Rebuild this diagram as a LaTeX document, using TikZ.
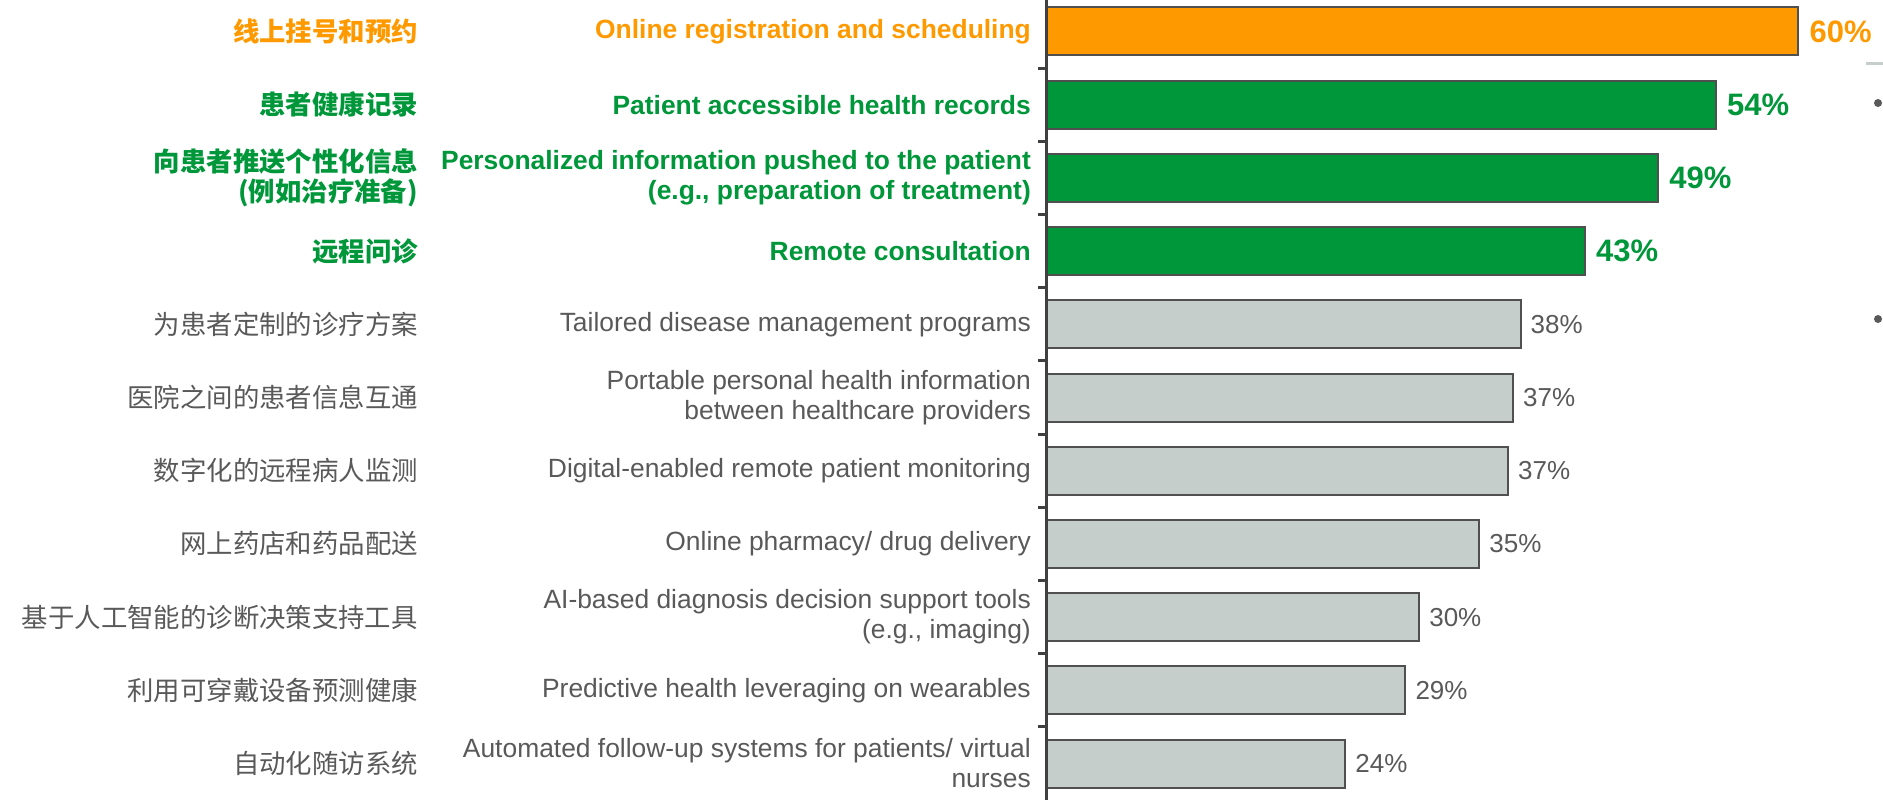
\documentclass[tikz,border=0pt]{standalone}
\usepackage{fontspec}
\setmainfont{Liberation Sans}
\newfontfamily\zhfont{Noto Sans CJK SC}
\usetikzlibrary{calc}
\definecolor{hlorange}{HTML}{FF9900}
\definecolor{hlgreen}{HTML}{00963A}
\definecolor{barfill}{HTML}{C5CECB}
\definecolor{barline}{HTML}{505050}
\definecolor{labelgray}{HTML}{595959}
\definecolor{axisgray}{HTML}{404040}

\begin{document}
\begin{tikzpicture}[x=1pt,y=-1pt]
\path [use as bounding box] (0,0) rectangle (1883,800);
\tikzstyle{bar} = [draw=barline, line width=2pt]
\tikzstyle{en} = [anchor=east, inner sep=0pt, align=right, text=labelgray, font=\fontsize{26.4}{30}\selectfont]
\tikzstyle{zh} = [anchor=east, inner sep=0pt, align=right, text=labelgray, font=\zhfont\fontsize{26.4}{30}\selectfont]
\tikzstyle{hlen} = [en, font=\bfseries\fontsize{26.4}{30}\selectfont]
\tikzstyle{hlzh} = [zh, font=\zhfont\bfseries\fontsize{26.4}{30}\selectfont]
\tikzstyle{pct} = [anchor=west, inner sep=0pt, text=labelgray, font=\fontsize{26}{30}\selectfont]
\tikzstyle{hlpct} = [pct, font=\bfseries\fontsize{31}{34}\selectfont]
\tikzstyle{bullet} = [circle, fill=labelgray, inner sep=0pt, minimum size=8pt]
\coordinate (r1) at (1046,31.5);
\coordinate (r2) at (1046,104.7);
\coordinate (r3) at (1046,177.9);
\coordinate (r4) at (1046,251.1);
\coordinate (r5) at (1046,324.3);
\coordinate (r6) at (1046,397.5);
\coordinate (r7) at (1046,470.7);
\coordinate (r8) at (1046,543.9);
\coordinate (r9) at (1046,617.1);
\coordinate (r10) at (1046,690.3);
\coordinate (r11) at (1046,763.5);
% bars
\draw[bar, fill=hlorange] ($(r1)+(0,-24)$) rectangle ($(r1)+(60.1*12.52,24)$);
\draw[bar, fill=hlgreen] ($(r2)+(0,-24)$) rectangle ($(r2)+(53.5*12.52,24)$);
\draw[bar, fill=hlgreen] ($(r3)+(0,-24)$) rectangle ($(r3)+(48.9*12.52,24)$);
\draw[bar, fill=hlgreen] ($(r4)+(0,-24)$) rectangle ($(r4)+(43.05*12.52,24)$);
\draw[bar, fill=barfill] ($(r5)+(0,-24)$) rectangle ($(r5)+(37.9*12.52,24)$);
\draw[bar, fill=barfill] ($(r6)+(0,-24)$) rectangle ($(r6)+(37.3*12.52,24)$);
\draw[bar, fill=barfill] ($(r7)+(0,-24)$) rectangle ($(r7)+(36.9*12.52,24)$);
\draw[bar, fill=barfill] ($(r8)+(0,-24)$) rectangle ($(r8)+(34.6*12.52,24)$);
\draw[bar, fill=barfill] ($(r9)+(0,-24)$) rectangle ($(r9)+(29.8*12.52,24)$);
\draw[bar, fill=barfill] ($(r10)+(0,-24)$) rectangle ($(r10)+(28.7*12.52,24)$);
\draw[bar, fill=barfill] ($(r11)+(0,-24)$) rectangle ($(r11)+(23.9*12.52,24)$);
% axis and ticks
\draw[axisgray, line width=3pt] (1046,0) -- (1046,800);
\draw[axisgray, line width=3pt] (1038,68.1) -- (1046,68.1) (1038,141.3) -- (1046,141.3)
  (1038,214.5) -- (1046,214.5) (1038,287.7) -- (1046,287.7) (1038,360.9) -- (1046,360.9)
  (1038,434.1) -- (1046,434.1) (1038,507.3) -- (1046,507.3) (1038,580.5) -- (1046,580.5)
  (1038,653.7) -- (1046,653.7) (1038,726.9) -- (1046,726.9);
% values
\node[hlpct, text=hlorange] (p1) at ($(r1)+(60.1*12.52+11,0)$) {60\%};
\node[hlpct, text=hlgreen] (p2) at ($(r2)+(53.5*12.52+11,0)$) {54\%};
\node[hlpct, text=hlgreen] (p3) at ($(r3)+(48.9*12.52+11,0)$) {49\%};
\node[hlpct, text=hlgreen] (p4) at ($(r4)+(43.05*12.52+11,0)$) {43\%};
\node[pct] (p5) at ($(r5)+(37.9*12.52+10,0)$) {38\%};
\node[pct] (p6) at ($(r6)+(37.3*12.52+10,0)$) {37\%};
\node[pct] (p7) at ($(r7)+(36.9*12.52+10,0)$) {37\%};
\node[pct] (p8) at ($(r8)+(34.6*12.52+10,0)$) {35\%};
\node[pct] (p9) at ($(r9)+(29.8*12.52+10,0)$) {30\%};
\node[pct] (p10) at ($(r10)+(28.7*12.52+10,0)$) {29\%};
\node[pct] (p11) at ($(r11)+(23.9*12.52+10,0)$) {24\%};
% english labels
\node[hlen, text=hlorange] (e1) at ($(r1)+(-15,0)$) {Online registration and scheduling};
\node[hlen, text=hlgreen] (e2) at ($(r2)+(-15,0)$) {Patient accessible health records};
\node[hlen, text=hlgreen] (e3) at ($(r3)+(-15,0)$) {Personalized information pushed to the patient\\(e.g., preparation of treatment)};
\node[hlen, text=hlgreen] (e4) at ($(r4)+(-15,0)$) {Remote consultation};
\node[en] (e5) at ($(r5)+(-15,0)$) {Tailored disease management programs};
\node[en] (e6) at ($(r6)+(-15,0)$) {Portable personal health information\\between healthcare providers};
\node[en] (e7) at ($(r7)+(-15,0)$) {Digital-enabled remote patient monitoring};
\node[en] (e8) at ($(r8)+(-15,0)$) {Online pharmacy/ drug delivery};
\node[en] (e9) at ($(r9)+(-15,0)$) {AI-based diagnosis decision support tools\\(e.g., imaging)};
\node[en] (e10) at ($(r10)+(-15,0)$) {Predictive health leveraging on wearables};
\node[en] (e11) at ($(r11)+(-15,0)$) {Automated follow-up systems for patients/ virtual\\nurses};
% chinese labels
\node[hlzh, text=hlorange] (z1) at ($(r1)+(-628,0)$) {线上挂号和预约};
\node[hlzh, text=hlgreen] (z2) at ($(r2)+(-628,0)$) {患者健康记录};
\node[hlzh, text=hlgreen] (z3) at ($(r3)+(-628,0)$) {向患者推送个性化信息\\(例如治疗准备)};
\node[hlzh, text=hlgreen] (z4) at ($(r4)+(-628,0)$) {远程问诊};
\node[zh] (z5) at ($(r5)+(-628,0)$) {为患者定制的诊疗方案};
\node[zh] (z6) at ($(r6)+(-628,0)$) {医院之间的患者信息互通};
\node[zh] (z7) at ($(r7)+(-628,0)$) {数字化的远程病人监测};
\node[zh] (z8) at ($(r8)+(-628,0)$) {网上药店和药品配送};
\node[zh] (z9) at ($(r9)+(-628,0)$) {基于人工智能的诊断决策支持工具};
\node[zh] (z10) at ($(r10)+(-628,0)$) {利用可穿戴设备预测健康};
\node[zh] (z11) at ($(r11)+(-628,0)$) {自动化随访系统};
% edge of the next panel
\draw[barfill, line width=3pt] (1866,64) -- (1883,64);
\node[bullet] (b1) at (1878,103) {};
\node[bullet] (b2) at (1878,319) {};
\end{tikzpicture}
\end{document}
